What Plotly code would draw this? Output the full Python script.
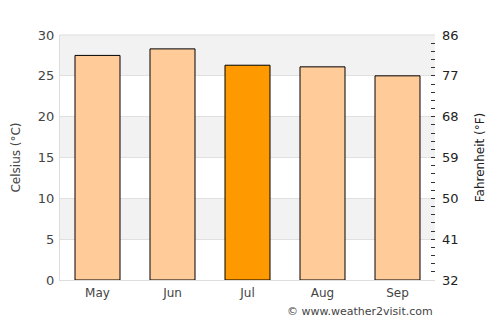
import plotly.graph_objects as go

months = ["May", "Jun", "Jul", "Aug", "Sep"]
celsius = [27.5, 28.3, 26.3, 26.1, 25.0]
colors = ["#ffcc99", "#ffcc99", "#ff9900", "#ffcc99", "#ffcc99"]
c_ticks = [0, 5, 10, 15, 20, 25, 30]
f_ticks = [32, 41, 50, 59, 68, 77, 86]

fig = go.Figure()
fig.add_trace(go.Bar(x=months, y=celsius, marker=dict(color=colors, line=dict(color="#000000", width=1)),
                     width=0.6, hoverinfo="skip"))
fig.add_trace(go.Scatter(x=months, y=[c * 9 / 5 + 32 for c in celsius], yaxis="y2",
                         mode="markers", marker=dict(opacity=0), hoverinfo="skip", showlegend=False))

shapes = []
for i in range(len(c_ticks) - 1):
    if (len(c_ticks) - 2 - i) % 2 == 0:
        shapes.append(dict(type="rect", xref="paper", yref="y", x0=0, x1=1, y0=c_ticks[i], y1=c_ticks[i + 1],
                           fillcolor="#f2f2f2", line=dict(width=0), layer="below"))

fig.update_layout(
    width=500, height=325, margin=dict(l=60, r=65, t=35, b=45),
    paper_bgcolor="white", plot_bgcolor="white", showlegend=False, bargap=0.4,
    font=dict(family="DejaVu Sans", size=13, color="#444444"),
    shapes=shapes,
    xaxis=dict(showline=True, linecolor="#dddddd", linewidth=1, ticks="", showgrid=False,
               tickfont=dict(size=12, color="#444444"), mirror=False, ticklabelstandoff=2),
    yaxis=dict(range=[0, 30], tickvals=c_ticks, showgrid=True, gridcolor="#e0e0e0",
               showline=True, linecolor="#dddddd", zeroline=False, ticklabelstandoff=2,
               title=dict(text="Celsius (°C)", font=dict(size=12, color="#444444"), standoff=14),
               tickfont=dict(size=13, color="#444444")),
    yaxis2=dict(range=[32, 86], overlaying="y", side="right", tick0=32, dtick=9, showgrid=False,
                zeroline=False, ticks="inside", ticklen=4, tickcolor="#333333", ticklabelstandoff=6,
                minor=dict(dtick=1.8, tick0=32, ticks="inside", ticklen=4, tickcolor="#333333"),
                title=dict(text="Fahrenheit (°F)", font=dict(size=12, color="#222222"), standoff=18),
                tickfont=dict(size=13, color="#222222")),
    annotations=[dict(text="© www.weather2visit.com", xref="paper", yref="paper", x=1, y=-0.095,
                      xanchor="right", yanchor="top", showarrow=False,
                      font=dict(size=11, color="#444444"))],
)
fig.add_shape(type="line", xref="paper", yref="paper", x0=0, x1=1, y0=1, y1=1,
              line=dict(color="#dddddd", width=1))

fig.write_html("out.html")
